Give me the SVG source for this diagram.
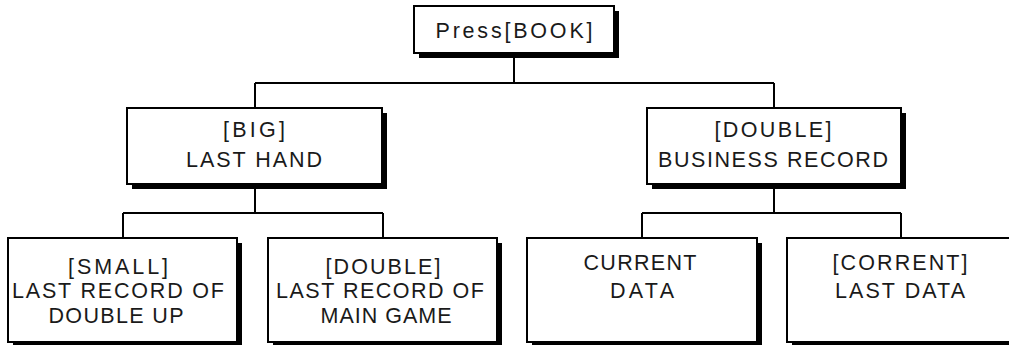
<svg xmlns="http://www.w3.org/2000/svg" width="1009" height="345" viewBox="0 0 1009 345">
<style>
.shadow{fill:#000}
.box{fill:#fff;stroke:#000;stroke-width:2}
.conn{fill:none;stroke:#000;stroke-width:2}
text{font-family:"Liberation Sans",Arial,sans-serif;font-size:21.5px;fill:#1a1a1a;text-anchor:middle}
</style>
<rect width="1009" height="345" fill="#fff"/>
<g id="connectors">
<path class="conn" d="M514 53V83M255 83H774M255 83V108M774 83V108"/>
<path class="conn" d="M255 184V213M123 213H383M123 213V238M383 213V238"/>
<path class="conn" d="M774 184V213M642 213H901M642 213V238M901 213V238"/>
</g>
<g id="press-book">
<rect class="shadow" x="419" y="11" width="200" height="47"/>
<rect class="box" x="414" y="6" width="200" height="47"/>
<text x="514" y="38" textLength="157" lengthAdjust="spacing">Press[BOOK]</text>
</g>
<g id="big-last-hand">
<rect class="shadow" x="132" y="113" width="255" height="76"/>
<rect class="box" x="127" y="108" width="255" height="76"/>
<text x="254" y="137" textLength="62" lengthAdjust="spacing">[BIG]</text>
<text x="254" y="167" textLength="136" lengthAdjust="spacing">LAST HAND</text>
</g>
<g id="double-business-record">
<rect class="shadow" x="652" y="113" width="254" height="76"/>
<rect class="box" x="647" y="108" width="254" height="76"/>
<text x="773" y="137" textLength="117" lengthAdjust="spacing">[DOUBLE]</text>
<text x="773" y="167" textLength="230" lengthAdjust="spacing">BUSINESS RECORD</text>
</g>
<g id="small-last-record">
<rect class="shadow" x="13" y="243" width="229" height="104"/>
<rect class="box" x="8" y="238" width="229" height="104"/>
<text x="118" y="274" textLength="100" lengthAdjust="spacing">[SMALL]</text>
<text x="118" y="298" textLength="212" lengthAdjust="spacing">LAST RECORD OF</text>
<text x="116" y="323" textLength="135" lengthAdjust="spacing">DOUBLE UP</text>
</g>
<g id="double-last-record">
<rect class="shadow" x="273" y="243" width="229" height="104"/>
<rect class="box" x="268" y="238" width="229" height="104"/>
<text x="383" y="274" textLength="115" lengthAdjust="spacing">[DOUBLE]</text>
<text x="380" y="298" textLength="208" lengthAdjust="spacing">LAST RECORD OF</text>
<text x="386" y="323" textLength="131" lengthAdjust="spacing">MAIN GAME</text>
</g>
<g id="current-data">
<rect class="shadow" x="532" y="243" width="230" height="104"/>
<rect class="box" x="527" y="238" width="230" height="104"/>
<text x="640" y="270" textLength="113" lengthAdjust="spacing">CURRENT</text>
<text x="642" y="298" textLength="64" lengthAdjust="spacing">DATA</text>
</g>
<g id="corrent-last-data">
<rect class="shadow" x="792" y="243" width="230" height="104"/>
<rect class="box" x="787" y="238" width="230" height="104"/>
<text x="900" y="270" textLength="135" lengthAdjust="spacing">[CORRENT]</text>
<text x="900" y="298" textLength="130" lengthAdjust="spacing">LAST DATA</text>
</g>
</svg>
